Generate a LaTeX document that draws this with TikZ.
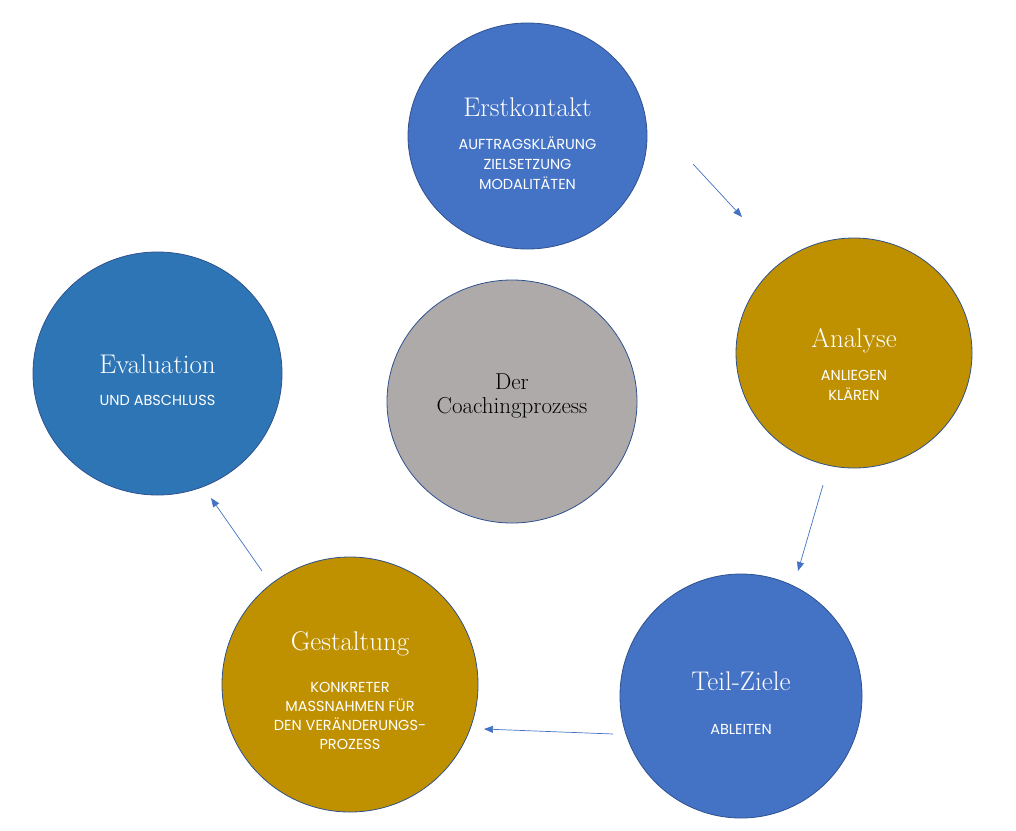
\documentclass[tikz,border=0pt]{standalone}
\usepackage{fontspec}
\newfontfamily\capsfont{Poppins}
\usetikzlibrary{shapes.geometric,arrows.meta}

\definecolor{phaseblue}{HTML}{4472C4}
\definecolor{evalblue}{HTML}{2E75B6}
\definecolor{phasegold}{HTML}{BF9000}
\definecolor{coregray}{HTML}{AEAAAA}
\definecolor{rimblue}{HTML}{2F528F}

\begin{document}
\begin{tikzpicture}[x=1pt,y=-1pt,
	phase/.style={ellipse,draw=rimblue,line width=0.8pt,inner sep=0pt},
	headline/.style={anchor=base,text=white,font=\fontsize{27}{30}\selectfont},
	tasks/.style={align=center,text=white,font=\capsfont\fontsize{14.5}{20}\selectfont},
	flow/.style={draw=phaseblue,line width=0.7pt,-{Triangle[length=9pt,width=7pt]}}]
		\useasboundingbox (0,0) rectangle (1016,830);
		% the five phases and the centre
		\node[phase,fill=phaseblue,minimum width=239pt,minimum height=226pt] (erst) at (527.5,136) {};
		\node[phase,fill=phasegold,minimum width=236pt,minimum height=230pt] (ana) at (854,353) {};
		\node[phase,fill=phaseblue,minimum width=242pt,minimum height=244pt] (teil) at (741,696) {};
		\node[phase,fill=phasegold,minimum width=256pt,minimum height=255pt] (gest) at (350,684.5) {};
		\node[phase,fill=evalblue,minimum width=249pt,minimum height=243pt] (eval) at (157.5,373.5) {};
		\node[phase,fill=coregray,minimum width=250pt,minimum height=243pt] (core) at (512,401.5) {};
		% texts
		\node[headline] (erstT) at (527.5,116) {Erstkontakt};
		\node[tasks] (erstS) at (527.5,163) {AUFTRAGSKLÄRUNG\\ZIELSETZUNG\\MODALITÄTEN};
		\node[headline] (anaT) at (854,347) {Analyse};
		\node[tasks] (anaS) at (854,385) {ANLIEGEN\\KLÄREN};
		\node[headline] (teilT) at (741,690) {Teil-Ziele};
		\node[tasks] (teilS) at (741,729) {ABLEITEN};
		\node[headline] (gestT) at (350,650) {Gestaltung};
		\node[tasks,font=\capsfont\fontsize{14.5}{19}\selectfont] (gestS) at (350,715.5) {KONKRETER\\MASSNAHMEN FÜR\\DEN VERÄNDERUNGS-\\PROZESS};
		\node[headline] (evalT) at (157.5,373) {Evaluation};
		\node[tasks] (evalS) at (157.5,400) {UND ABSCHLUSS};
		\node[align=center,font=\fontsize{23}{24}\selectfont] (coreT) at (512,396) {Der\\Coachingprozess};
		% arrows between the phases
		\coordinate (a1) at (693,164);
		\coordinate (b1) at (742,217);
		\coordinate (a2) at (823,485);
		\coordinate (b2) at (798,571);
		\coordinate (a3) at (613,734);
		\coordinate (b3) at (484,729);
		\coordinate (a4) at (262,571);
		\coordinate (b4) at (211,498);
		\draw[flow] (a1)--(b1);
		\draw[flow] (a2)--(b2);
		\draw[flow] (a3)--(b3);
		\draw[flow] (a4)--(b4);
\end{tikzpicture}
\end{document}
